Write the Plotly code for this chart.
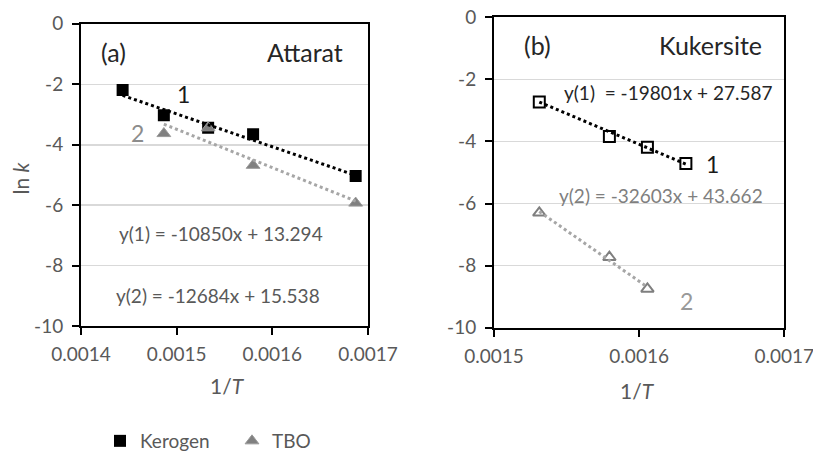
import plotly.graph_objects as go

W, H = 813, 460

# ---- data: (a) Attarat ----
att_x_ker = [0.0014435, 0.0014866, 0.0015329, 0.0015799, 0.0016871]
att_y_ker = [-2.19, -3.02, -3.44, -3.65, -5.03]
att_x_tbo = [0.0014866, 0.0015329, 0.0015799, 0.0016871]
att_y_tbo = [-3.63, -3.44, -4.68, -5.93]
att_slope = [-10850, -12684]
att_icpt = [13.294, 15.538]

# ---- data: (b) Kukersite ----
kuk_x_ker = [0.0015312, 0.0015795, 0.0016057, 0.0016322]
kuk_y_ker = [-2.73, -3.84, -4.19, -4.71]
kuk_x_tbo = [0.0015312, 0.0015795, 0.0016057]
kuk_y_tbo = [-6.30, -7.73, -8.75]
kuk_slope = [-19801, -32603]
kuk_icpt = [27.587, 43.662]

# ---- ticks ----
att_xticks = [0.0014, 0.0015, 0.0016, 0.0017]
att_xlabels = ["0.0014", "0.0015", "0.0016", "0.0017"]
kuk_xticks = [0.0015, 0.0016, 0.0017]
kuk_xlabels = ["0.0015", "0.0016", "0.0017"]
yticks = [0, -2, -4, -6, -8, -10]
ylabels = ["0", "-2", "-4", "-6", "-8", "-10"]

FONT = "Lato"
GRAY = "#595959"
TBO_FILL = "#808080"
TBO_LINE = "#a6a6a6"


def trend(xs, m, b):
    x0, x1 = min(xs), max(xs)
    return [x0, x1], [m * x0 + b, m * x1 + b]


fig = go.Figure()

# Panel (a)
fig.add_trace(go.Scatter(x=att_x_ker, y=att_y_ker, mode="markers", name="Kerogen",
                         marker=dict(symbol="square", size=12, color="black"),
                         xaxis="x", yaxis="y", legend="legend"))
fig.add_trace(go.Scatter(x=att_x_tbo, y=att_y_tbo, mode="markers", name="TBO",
                         marker=dict(symbol="triangle-up", size=12, color=TBO_FILL,
                                     line=dict(color="#9a9a9a", width=1)),
                         xaxis="x", yaxis="y", legend="legend2"))
tx, ty = trend(att_x_ker, att_slope[0], att_icpt[0])
fig.add_trace(go.Scatter(x=tx, y=ty, mode="lines", showlegend=False,
                         line=dict(color="black", width=3, dash="dot"),
                         xaxis="x", yaxis="y"))
tx, ty = trend(att_x_tbo, att_slope[1], att_icpt[1])
fig.add_trace(go.Scatter(x=tx, y=ty, mode="lines", showlegend=False,
                         line=dict(color=TBO_LINE, width=3, dash="dot"),
                         xaxis="x", yaxis="y"))

# Panel (b)
fig.add_trace(go.Scatter(x=kuk_x_ker, y=kuk_y_ker, mode="markers", showlegend=False,
                         marker=dict(symbol="square-open", size=11, color="black",
                                     line=dict(width=2)),
                         xaxis="x2", yaxis="y2"))
fig.add_trace(go.Scatter(x=kuk_x_tbo, y=kuk_y_tbo, mode="markers", showlegend=False,
                         marker=dict(symbol="triangle-up-open", size=11, color="#7f7f7f",
                                     line=dict(width=2)),
                         xaxis="x2", yaxis="y2"))
tx, ty = trend(kuk_x_ker, kuk_slope[0], kuk_icpt[0])
fig.add_trace(go.Scatter(x=tx, y=ty, mode="lines", showlegend=False,
                         line=dict(color="black", width=3, dash="dot"),
                         xaxis="x2", yaxis="y2"))
tx, ty = trend(kuk_x_tbo, kuk_slope[1], kuk_icpt[1])
fig.add_trace(go.Scatter(x=tx, y=ty, mode="lines", showlegend=False,
                         line=dict(color=TBO_LINE, width=3, dash="dot"),
                         xaxis="x2", yaxis="y2"))

axis_common = dict(showline=True, linecolor="black", linewidth=2, mirror=True,
                   ticks="outside", ticklen=7, tickwidth=2, tickcolor="black",
                   tickfont=dict(family=FONT, size=19, color=GRAY),
                   zeroline=False, automargin=False, tickmode="array",
                   ticklabeloverflow="allow")

fig.update_layout(
    width=W, height=H,
    margin=dict(l=0, r=0, t=0, b=0),
    paper_bgcolor="white", plot_bgcolor="white",
    font=dict(family=FONT, color=GRAY),
    xaxis=dict(domain=[81 / W, 368 / W], range=[0.0014, 0.0017],
               tickvals=att_xticks, ticktext=att_xlabels, showgrid=False,
               anchor="y", ticklabelstandoff=3, **axis_common),
    yaxis=dict(domain=[1 - 332.7 / H, 1 - 24.3 / H], range=[-10, 0],
               tickvals=yticks, ticktext=ylabels, showgrid=True,
               gridcolor="#d9d9d9", gridwidth=1.5, anchor="x",
               ticklabelstandoff=5, **axis_common),
    xaxis2=dict(domain=[494 / W, 784.3 / W], range=[0.0015, 0.0017],
                tickvals=kuk_xticks, ticktext=kuk_xlabels, showgrid=False,
                anchor="y2", ticklabelstandoff=3, **axis_common),
    yaxis2=dict(domain=[1 - 334.3 / H, 1 - 17.5 / H], range=[-10, 0],
                tickvals=yticks, ticktext=ylabels, showgrid=True,
                gridcolor="#d9d9d9", gridwidth=1.5, anchor="x2",
                ticklabelstandoff=5, **axis_common),
    legend=dict(x=100 / W, y=1 - 450 / H, xanchor="left", yanchor="middle",
                orientation="h", bgcolor="rgba(0,0,0,0)",
                font=dict(family=FONT, size=19, color=GRAY)),
    legend2=dict(x=232 / W, y=1 - 450 / H, xanchor="left", yanchor="middle",
                 orientation="h", bgcolor="rgba(0,0,0,0)",
                 font=dict(family=FONT, size=19, color=GRAY)),
)


def ann(text, px, py, size, color, angle=0):
    fig.add_annotation(text=text, x=px / W, y=1 - py / H, xref="paper", yref="paper",
                       showarrow=False, xanchor="center", yanchor="middle",
                       textangle=angle,
                       font=dict(family=FONT, size=size, color=color))


ann("(a)", 114, 53, 25, "#262626")
ann("Attarat", 305, 53, 25, "#262626")
ann("1", 183, 96, 23, "#1a1a1a")
ann("2", 137, 136, 23, "#8c8c8c")
ann("y(1) = -10850x + 13.294", 221, 238, 19, GRAY)
ann("y(2) = -12684x + 15.538", 218, 301, 19, GRAY)
ann("(b)", 537, 46, 25, "#262626")
ann("Kukersite", 710, 46, 25, "#262626")
ann("y(1) &nbsp;= -19801x + 27.587", 668, 94, 19, "#262626")
ann("1", 712, 167, 23, "#1a1a1a")
ann("y(2) = -32603x + 43.662", 661, 199, 19, "#7f7f7f")
ann("2", 686, 307, 23, "#999999")
ann("ln <i>k</i>", 20, 182, 21, GRAY, angle=-90)
ann("1/<i>T</i>", 227, 393, 21, GRAY)
ann("1/<i>T</i>", 637, 398, 21, GRAY)

fig.write_html(
    "out.html",
    config={"displayModeBar": False, "staticPlot": True},
    post_script="document.body.style.margin='0';document.body.style.overflow='hidden';",
)
